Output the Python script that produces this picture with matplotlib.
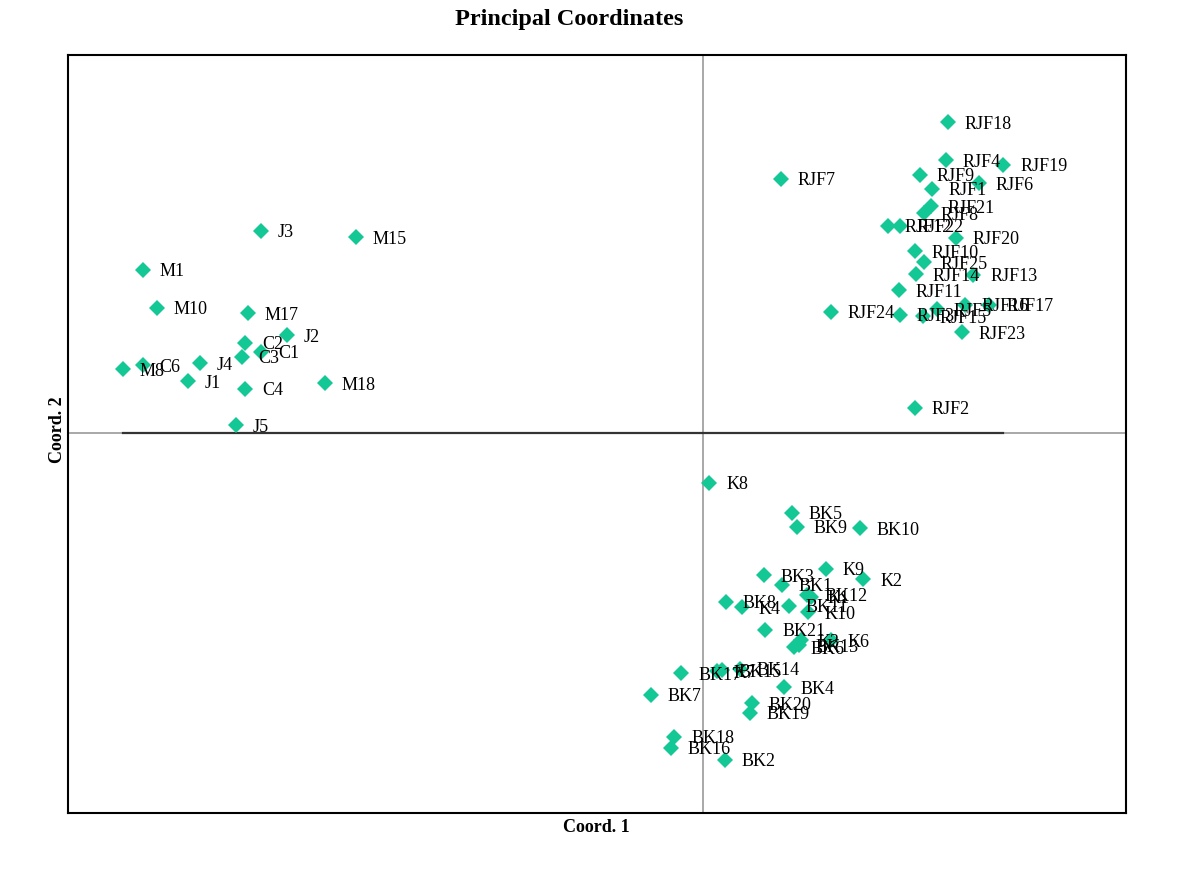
import matplotlib
matplotlib.use("Agg")
import matplotlib.pyplot as plt

# ---- data (Principal Coordinates) ----
labels_left = ["J3", "M15", "M1", "M10", "M17", "J2", "C2", "C1", "C3", "J4",
               "C6", "M8", "J1", "C4", "M18", "J5"]
x_left = [-0.631, -0.496, -0.800, -0.780, -0.650, -0.594, -0.654, -0.631, -0.659, -0.719,
          -0.800, -0.829, -0.736, -0.654, -0.540, -0.667]
y_left = [0.289, 0.280, 0.233, 0.179, 0.171, 0.140, 0.129, 0.116, 0.109, 0.100,
          0.097, 0.091, 0.074, 0.063, 0.071, 0.011]

labels_rjf = ["RJF18", "RJF4", "RJF19", "RJF9", "RJF6", "RJF1", "RJF7", "RJF21", "RJF8",
              "RJF12", "RJF22", "RJF20", "RJF10", "RJF25", "RJF14", "RJF13", "RJF11",
              "RJF24", "RJF3", "RJF15", "RJF5", "RJF16", "RJF17", "RJF23", "RJF2"]
x_rjf = [0.350, 0.347, 0.429, 0.310, 0.394, 0.327, 0.111, 0.326, 0.316,
         0.264, 0.281, 0.361, 0.303, 0.316, 0.304, 0.386, 0.280,
         0.183, 0.281, 0.314, 0.334, 0.374, 0.409, 0.370, 0.303]
y_rjf = [0.444, 0.390, 0.383, 0.369, 0.357, 0.349, 0.363, 0.324, 0.314,
         0.296, 0.296, 0.279, 0.260, 0.244, 0.227, 0.226, 0.204,
         0.173, 0.169, 0.167, 0.177, 0.183, 0.183, 0.144, 0.036]

labels_bk = ["K8", "BK5", "BK9", "BK10", "K9", "K2", "BK3", "BK1", "BK12", "K1",
             "BK8", "K4", "BK11", "K10", "BK21", "BK6", "BK13", "K3", "K6",
             "BK17", "K7", "BK15", "BK14", "BK4", "BK7", "BK20", "BK19",
             "BK18", "BK16", "BK2"]
x_bk = [0.009, 0.127, 0.134, 0.224, 0.176, 0.229, 0.087, 0.113, 0.149, 0.154,
        0.033, 0.056, 0.123, 0.150, 0.089, 0.130, 0.137, 0.140, 0.183,
        -0.031, 0.020, 0.027, 0.053, 0.116, -0.074, 0.070, 0.067,
        -0.041, -0.046, 0.031]
y_bk = [-0.071, -0.114, -0.134, -0.136, -0.194, -0.209, -0.203, -0.217, -0.231, -0.234,
        -0.241, -0.249, -0.247, -0.256, -0.281, -0.306, -0.303, -0.296, -0.296,
        -0.343, -0.340, -0.339, -0.337, -0.363, -0.374, -0.386, -0.400,
        -0.434, -0.450, -0.467]

labels = labels_left + labels_rjf + labels_bk
xs = x_left + x_rjf + x_bk
ys = y_left + y_rjf + y_bk

plt.rcParams['font.family'] = ['Liberation Serif', 'DejaVu Serif']

fig = plt.figure(figsize=(12, 8.75), dpi=100)
ax = fig.add_axes([68/1200, 1-813/875, (1126-68)/1200, (813-55)/875])

ax.set_xlim(-0.907, 0.604)
ax.set_ylim(-0.543, 0.540)

# zero lines
ax.axvline(0, color='#999999', lw=1.2, zorder=1)
ax.axhline(0, color='#999999', lw=1.2, zorder=1)
ax.plot([min(xs), max(xs)], [0, 0], color='#333333', lw=1.6, zorder=1.5)

ax.plot(xs, ys, linestyle='none', marker='D', markersize=7.8,
        color='#14C896', markeredgewidth=0, zorder=2)
for lab, x, y in zip(labels, xs, ys):
    ax.annotate(lab, (x, y), xytext=(12, -1.5), textcoords='offset points',
                ha='left', va='center', fontsize=13, color='black', zorder=3)

ax.set_xticks([])
ax.set_yticks([])
for s in ax.spines.values():
    s.set_linewidth(1.5)
    s.set_color('black')

fig.text(569/1200, 1-20/875, 'Principal Coordinates', ha='center', va='center',
         fontsize=17.5, fontweight='bold')
fig.text(596/1200, 1-827/875, 'Coord. 1', ha='center', va='center',
         fontsize=13, fontweight='bold')
fig.text(57/1200, 1-430/875, 'Coord. 2', ha='center', va='center', rotation=90,
         fontsize=13, fontweight='bold')

fig.savefig('out.png', dpi=100, facecolor='white')
